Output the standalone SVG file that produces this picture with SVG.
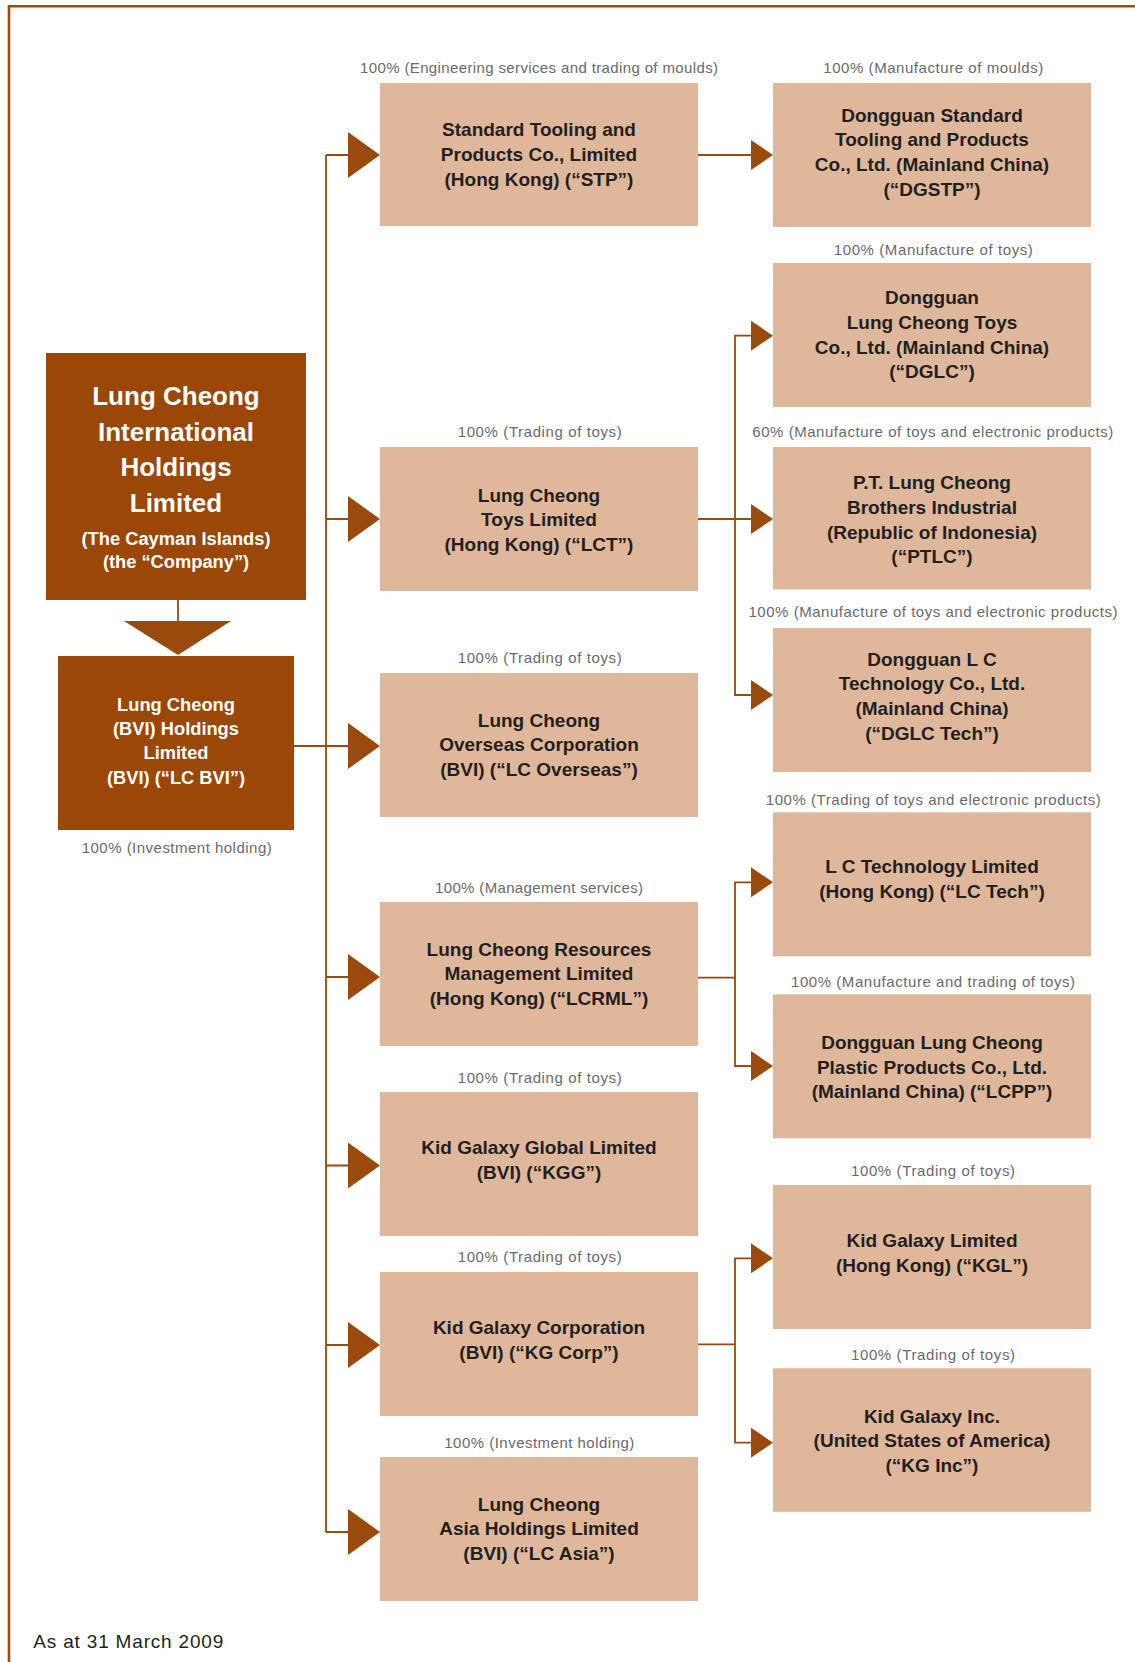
<svg xmlns="http://www.w3.org/2000/svg" xmlns:xlink="http://www.w3.org/1999/xlink" width="1135" height="1662" viewBox="0 0 1135 1662">
<style>
.frame{fill:none;stroke:#9a4a0c;stroke-width:2.6}
.ln{fill:none;stroke:#9a4a0c;stroke-width:1.8}
.ar{fill:#9a4a0c}
.dark{fill:#9a4708}
.tan{fill:#dfb89c}
.big{font-family:"Liberation Sans",Arial,sans-serif;font-weight:bold;font-size:26px;fill:#ffffff;text-anchor:middle}
.wt{font-family:"Liberation Sans",Arial,sans-serif;font-weight:bold;font-size:18.3px;fill:#ffffff;text-anchor:middle}
.bt{font-family:"Liberation Sans",Arial,sans-serif;font-weight:bold;font-size:19px;fill:#231f20;text-anchor:middle}
.lb{font-family:"Liberation Sans",Arial,sans-serif;font-size:15px;fill:#6a6a6a;text-anchor:middle}
.foot{font-family:"Liberation Sans",Arial,sans-serif;font-size:19px;fill:#231f20}
</style>
<defs>
<path id="bigArrow" d="M0,-23 L32,0 L0,23 Z"/>
<path id="smallArrow" d="M0,-15 L22,0 L0,15 Z"/>
</defs>
<rect width="1135" height="1662" fill="#ffffff"/>
<path class="frame" d="M9,1662 V6.3 H1135"/>

<g id="connectors">
<path class="ln" d="M178,600 V622"/>
<polygon class="ar" points="124,621 231,621 178,655"/>
<path class="ln" d="M326,155 V1532"/>
<path class="ln" d="M326,155 H350 M326,519 H350 M294,746 H350 M326,977 H350 M326,1165.5 H350 M326,1345 H350 M326,1532 H350"/>
<use href="#bigArrow" class="ar" x="348" y="155"/>
<use href="#bigArrow" class="ar" x="348" y="519"/>
<use href="#bigArrow" class="ar" x="348" y="746"/>
<use href="#bigArrow" class="ar" x="348" y="977"/>
<use href="#bigArrow" class="ar" x="348" y="1165.5"/>
<use href="#bigArrow" class="ar" x="348" y="1345"/>
<use href="#bigArrow" class="ar" x="348" y="1532"/>
<path class="ln" d="M698,155 H753"/>
<path class="ln" d="M698,519 H753 M753,335.7 H735 V695 H753"/>
<path class="ln" d="M698,977.7 H735 M753,882.3 H735 V1066 H753"/>
<path class="ln" d="M698,1344.3 H735 M753,1258.3 H735 V1442.7 H753"/>
<use href="#smallArrow" class="ar" x="751" y="155"/>
<use href="#smallArrow" class="ar" x="751" y="335.7"/>
<use href="#smallArrow" class="ar" x="751" y="519"/>
<use href="#smallArrow" class="ar" x="751" y="695"/>
<use href="#smallArrow" class="ar" x="751" y="882.3"/>
<use href="#smallArrow" class="ar" x="751" y="1066"/>
<use href="#smallArrow" class="ar" x="751" y="1258.3"/>
<use href="#smallArrow" class="ar" x="751" y="1442.7"/>
</g>

<g id="company">
<rect class="dark" x="46" y="353" width="260" height="247"/>
<text class="big" x="176" y="405">Lung Cheong</text>
<text class="big" x="176" y="440.5">International</text>
<text class="big" x="176" y="476">Holdings</text>
<text class="big" x="176" y="511.5">Limited</text>
<text class="wt" x="176" y="544.5">(The Cayman Islands)</text>
<text class="wt" x="176" y="568">(the “Company”)</text>
</g>

<g id="lcbvi">
<rect class="dark" x="58" y="656" width="236" height="174"/>
<text class="wt" x="176" y="710.5">Lung Cheong</text>
<text class="wt" x="176" y="735">(BVI) Holdings</text>
<text class="wt" x="176" y="758.5">Limited</text>
<text class="wt" x="176" y="783.5">(BVI) (“LC BVI”)</text>
<text class="lb" x="176.7" y="852.5" textLength="190" lengthAdjust="spacing">100% (Investment holding)</text>
</g>

<g id="stp">
<text class="lb" x="539" y="73.3" textLength="358" lengthAdjust="spacing">100% (Engineering services and trading of moulds)</text>
<rect class="tan" x="380" y="83" width="318" height="143"/>
<text class="bt" x="539" y="136">Standard Tooling and</text>
<text class="bt" x="539" y="161">Products Co., Limited</text>
<text class="bt" x="539" y="186">(Hong Kong) (“STP”)</text>
</g>

<g id="lct">
<text class="lb" x="539.7" y="436.7" textLength="164" lengthAdjust="spacing">100% (Trading of toys)</text>
<rect class="tan" x="380" y="447" width="318" height="144"/>
<text class="bt" x="539" y="501.7">Lung Cheong</text>
<text class="bt" x="539" y="526.3">Toys Limited</text>
<text class="bt" x="539" y="551">(Hong Kong) (“LCT”)</text>
</g>

<g id="lcoverseas">
<text class="lb" x="539.7" y="663.3" textLength="164" lengthAdjust="spacing">100% (Trading of toys)</text>
<rect class="tan" x="380" y="673" width="318" height="144"/>
<text class="bt" x="539" y="726.7">Lung Cheong</text>
<text class="bt" x="539" y="751.3">Overseas Corporation</text>
<text class="bt" x="539" y="776">(BVI) (“LC Overseas”)</text>
</g>

<g id="lcrml">
<text class="lb" x="539" y="893.3" textLength="208" lengthAdjust="spacing">100% (Management services)</text>
<rect class="tan" x="380" y="902" width="318" height="144"/>
<text class="bt" x="539" y="955.7">Lung Cheong Resources</text>
<text class="bt" x="539" y="980.3">Management Limited</text>
<text class="bt" x="539" y="1005">(Hong Kong) (“LCRML”)</text>
</g>

<g id="kgg">
<text class="lb" x="539.7" y="1082.7" textLength="164" lengthAdjust="spacing">100% (Trading of toys)</text>
<rect class="tan" x="380" y="1092" width="318" height="144"/>
<text class="bt" x="539" y="1154">Kid Galaxy Global Limited</text>
<text class="bt" x="539" y="1179">(BVI) (“KGG”)</text>
</g>

<g id="kgcorp">
<text class="lb" x="539.7" y="1261.7" textLength="164" lengthAdjust="spacing">100% (Trading of toys)</text>
<rect class="tan" x="380" y="1272" width="318" height="144"/>
<text class="bt" x="539" y="1334.3">Kid Galaxy Corporation</text>
<text class="bt" x="539" y="1359">(BVI) (“KG Corp”)</text>
</g>

<g id="lcasia">
<text class="lb" x="539.3" y="1448.3" textLength="190" lengthAdjust="spacing">100% (Investment holding)</text>
<rect class="tan" x="380" y="1457" width="318" height="144"/>
<text class="bt" x="539" y="1510.7">Lung Cheong</text>
<text class="bt" x="539" y="1535.3">Asia Holdings Limited</text>
<text class="bt" x="539" y="1560">(BVI) (“LC Asia”)</text>
</g>

<g id="dgstp">
<text class="lb" x="933.3" y="73.3" textLength="220" lengthAdjust="spacing">100% (Manufacture of moulds)</text>
<rect class="tan" x="773" y="83" width="318" height="144"/>
<text class="bt" x="932" y="121.7">Dongguan Standard</text>
<text class="bt" x="932" y="146.3">Tooling and Products</text>
<text class="bt" x="932" y="171">Co., Ltd. (Mainland China)</text>
<text class="bt" x="932" y="195.5">(“DGSTP”)</text>
</g>

<g id="dglc">
<text class="lb" x="933.3" y="255" textLength="199" lengthAdjust="spacing">100% (Manufacture of toys)</text>
<rect class="tan" x="773" y="263" width="318" height="144"/>
<text class="bt" x="932" y="304.3">Dongguan</text>
<text class="bt" x="932" y="329">Lung Cheong Toys</text>
<text class="bt" x="932" y="353.7">Co., Ltd. (Mainland China)</text>
<text class="bt" x="932" y="378.3">(“DGLC”)</text>
</g>

<g id="ptlc">
<text class="lb" x="932.8" y="436.7" textLength="361" lengthAdjust="spacing">60% (Manufacture of toys and electronic products)</text>
<rect class="tan" x="773" y="447" width="318" height="142.5"/>
<text class="bt" x="932" y="489">P.T. Lung Cheong</text>
<text class="bt" x="932" y="514">Brothers Industrial</text>
<text class="bt" x="932" y="538.7">(Republic of Indonesia)</text>
<text class="bt" x="932" y="563.3">(“PTLC”)</text>
</g>

<g id="dglctech">
<text class="lb" x="933" y="617.3" textLength="369" lengthAdjust="spacing">100% (Manufacture of toys and electronic products)</text>
<rect class="tan" x="773" y="628" width="318" height="144"/>
<text class="bt" x="932" y="665.7">Dongguan L C</text>
<text class="bt" x="932" y="690.3">Technology Co., Ltd.</text>
<text class="bt" x="932" y="715">(Mainland China)</text>
<text class="bt" x="932" y="739.7">(“DGLC Tech”)</text>
</g>

<g id="lctech">
<text class="lb" x="933.3" y="805" textLength="335" lengthAdjust="spacing">100% (Trading of toys and electronic products)</text>
<rect class="tan" x="773" y="812.3" width="318" height="144"/>
<text class="bt" x="932" y="873.3">L C Technology Limited</text>
<text class="bt" x="932" y="898.3">(Hong Kong) (“LC Tech”)</text>
</g>

<g id="lcpp">
<text class="lb" x="933" y="986.7" textLength="284" lengthAdjust="spacing">100% (Manufacture and trading of toys)</text>
<rect class="tan" x="773" y="994.3" width="318" height="144"/>
<text class="bt" x="932" y="1049.3">Dongguan Lung Cheong</text>
<text class="bt" x="932" y="1074">Plastic Products Co., Ltd.</text>
<text class="bt" x="932" y="1098.3">(Mainland China) (“LCPP”)</text>
</g>

<g id="kgl">
<text class="lb" x="933" y="1176" textLength="164" lengthAdjust="spacing">100% (Trading of toys)</text>
<rect class="tan" x="773" y="1185" width="318" height="144"/>
<text class="bt" x="932" y="1246.7">Kid Galaxy Limited</text>
<text class="bt" x="932" y="1271.7">(Hong Kong) (“KGL”)</text>
</g>

<g id="kginc">
<text class="lb" x="933" y="1360" textLength="164" lengthAdjust="spacing">100% (Trading of toys)</text>
<rect class="tan" x="773" y="1368.3" width="318" height="143.5"/>
<text class="bt" x="932" y="1422.7">Kid Galaxy Inc.</text>
<text class="bt" x="932" y="1447.3">(United States of America)</text>
<text class="bt" x="932" y="1472">(“KG Inc”)</text>
</g>

<text class="foot" x="33.3" y="1647.7" textLength="190" lengthAdjust="spacing">As at 31 March 2009</text>
</svg>
